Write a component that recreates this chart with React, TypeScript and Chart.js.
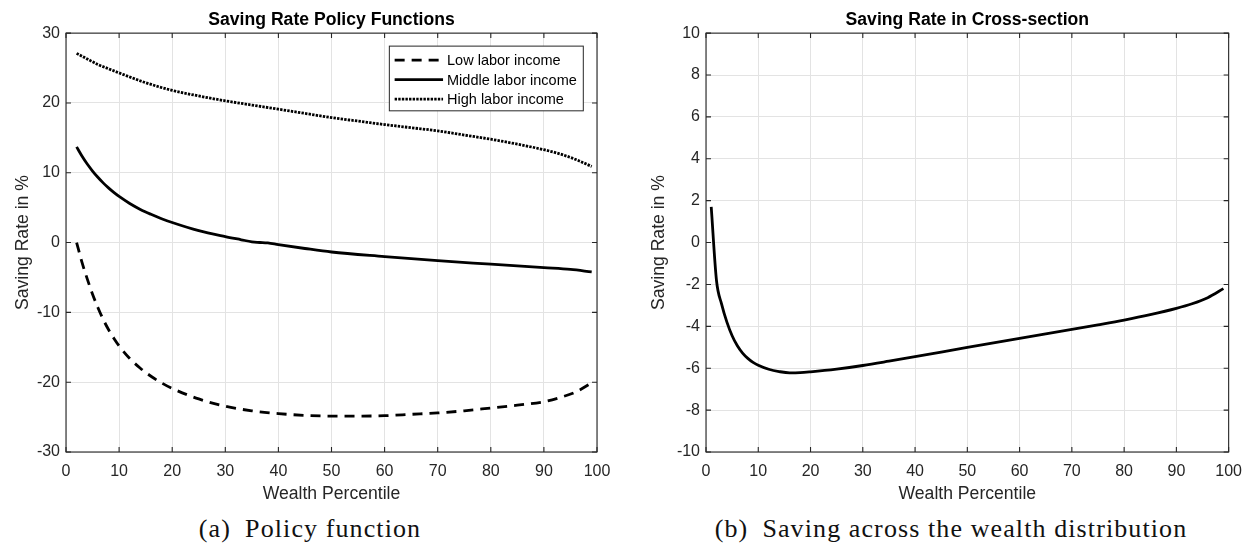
import React, { useEffect, useRef } from "react";
import { Chart, registerables } from "chart.js";

Chart.register(...registerables);

const FONT = "'Liberation Sans', Arial, Helvetica, sans-serif";
const AXIS_COLOR = "#262626";
const GRID_COLOR = "#e3e3e3";

// ---------- Panel (a): policy functions ----------
const lowPct = [2, 3, 4, 5, 6, 7, 8, 9, 10, 12, 14, 16, 18, 20, 25, 30, 35, 40, 45, 50, 55, 60, 65, 70, 75, 80, 85, 90, 93, 96, 99];
const lowRate = [0, -2.8, -5.2, -7.4, -9.3, -11.0, -12.45, -13.7, -14.8, -16.6, -18.0, -19.15, -20.1, -20.9, -22.4, -23.45, -24.1, -24.5, -24.75, -24.85, -24.85, -24.8, -24.6, -24.4, -24.1, -23.7, -23.3, -22.8, -22.2, -21.4, -20.1];

const midPct = [2, 3, 4, 5, 6, 7, 8, 9, 10, 12, 14, 16, 18, 20, 25, 30, 33, 35, 36, 37, 38, 40, 45, 50, 60, 70, 80, 90, 95, 99];
const midRate = [13.7, 12.4, 11.25, 10.25, 9.35, 8.55, 7.83, 7.18, 6.6, 5.6, 4.75, 4.05, 3.42, 2.87, 1.7, 0.85, 0.4, 0.1, 0.02, 0.0, -0.06, -0.3, -0.85, -1.35, -2.0, -2.6, -3.1, -3.6, -3.85, -4.2];

const highPct = [2, 4, 6, 8, 10, 15, 20, 25, 30, 35, 40, 45, 50, 55, 60, 65, 70, 75, 80, 85, 90, 93, 96, 99];
const highRate = [27.1, 26.3, 25.5, 24.9, 24.3, 22.9, 21.8, 21.0, 20.3, 19.7, 19.1, 18.5, 17.9, 17.4, 16.9, 16.45, 16.0, 15.4, 14.8, 14.1, 13.3, 12.7, 11.9, 10.9];

const seriesLabels = ["Low labor income", "Middle labor income", "High labor income"];

// ---------- Panel (b): cross-section ----------
const crossPct = [1, 2, 3, 4, 5, 6, 7, 8, 9, 10, 12, 14, 16, 18, 20, 25, 30, 35, 40, 45, 50, 55, 60, 65, 70, 75, 80, 85, 90, 93, 96, 99];
const crossRate = [1.7, -1.8, -2.95, -3.8, -4.45, -4.93, -5.28, -5.53, -5.72, -5.86, -6.05, -6.16, -6.22, -6.21, -6.17, -6.04, -5.87, -5.665, -5.45, -5.23, -5.01, -4.79, -4.57, -4.36, -4.15, -3.93, -3.7, -3.44, -3.14, -2.92, -2.63, -2.2];

const titles = ["Saving Rate Policy Functions", "Saving Rate in Cross-section"];
const xTitle = "Wealth Percentile";
const yTitle = "Saving Rate in %";
const captions = ["(a)\u2002Policy function", "(b)\u2002Saving across the wealth distribution"];

const pts = (xs: number[], ys: number[]) => xs.map((x, i) => ({ x, y: ys[i] }));

const boxPlugin = {
  id: "matlabBox",
  afterDatasetsDraw(chart: any) {
    const { ctx, chartArea: a, scales } = chart;
    ctx.save();
    ctx.strokeStyle = AXIS_COLOR;
    ctx.lineWidth = 1.1;
    ctx.setLineDash([]);
    ctx.beginPath();
    const tl = 5;
    scales.x.ticks.forEach((t: any) => {
      const px = scales.x.getPixelForValue(t.value);
      ctx.moveTo(px, a.bottom);
      ctx.lineTo(px, a.bottom - tl);
      ctx.moveTo(px, a.top);
      ctx.lineTo(px, a.top + tl);
    });
    scales.y.ticks.forEach((t: any) => {
      const py = scales.y.getPixelForValue(t.value);
      ctx.moveTo(a.left, py);
      ctx.lineTo(a.left + tl, py);
      ctx.moveTo(a.right, py);
      ctx.lineTo(a.right - tl, py);
    });
    ctx.stroke();
    ctx.strokeRect(a.left, a.top, a.right - a.left, a.bottom - a.top);
    ctx.restore();
  },
};

const legendPlugin = {
  id: "insideLegend",
  afterDraw(chart: any) {
    const { ctx, chartArea: a } = chart;
    const ds = chart.data.datasets;
    ctx.save();
    ctx.font = `14.5px ${FONT}`;
    const textW = Math.max(...ds.map((d: any) => ctx.measureText(d.label).width));
    const sampleL = 5.3;
    const sampleLen = 48.4;
    const textGap = 4;
    const w = sampleL + sampleLen + textGap + textW + 6.5;
    const h = 64.7;
    const x0 = a.right - 13.7 - w;
    const y0 = a.top + 13;
    ctx.fillStyle = "#fff";
    ctx.fillRect(x0, y0, w, h);
    ctx.strokeStyle = AXIS_COLOR;
    ctx.lineWidth = 1;
    ctx.strokeRect(x0, y0, w, h);
    ds.forEach((d: any, i: number) => {
      const y = y0 + 14 + i * 19.5;
      ctx.beginPath();
      ctx.setLineDash(d.borderDash || []);
      ctx.lineWidth = d.borderWidth;
      ctx.strokeStyle = d.borderColor;
      ctx.moveTo(x0 + sampleL, y);
      ctx.lineTo(x0 + sampleL + sampleLen, y);
      ctx.stroke();
      ctx.setLineDash([]);
      ctx.fillStyle = "#000";
      ctx.textBaseline = "middle";
      ctx.textAlign = "left";
      ctx.fillText(d.label, x0 + sampleL + sampleLen + textGap, y + 1);
    });
    ctx.restore();
  },
};

const lineBase = {
  borderColor: "#000",
  backgroundColor: "#000",
  borderWidth: 2.8,
  pointRadius: 0,
  fill: false,
  cubicInterpolationMode: "monotone" as const,
};

function makeOptions(opts: {
  title: string;
  ymin: number;
  ymax: number;
  ystep: number;
  yWidth: number;
  yTitlePad: number;
  padRight: number;
}) {
  return {
    animation: false as const,
    responsive: false,
    maintainAspectRatio: false,
    events: [],
    layout: { padding: { left: 0, right: opts.padRight, top: 5, bottom: 0 } },
    plugins: {
      legend: { display: false },
      tooltip: { enabled: false },
      title: {
        display: true,
        text: opts.title,
        fullSize: false,
        color: "#000",
        font: { family: FONT, size: 17.6, weight: "bold" as const },
        padding: { top: 5, bottom: 2 },
      },
    },
    scales: {
      x: {
        type: "linear" as const,
        min: 0,
        max: 100,
        ticks: { stepSize: 10, color: AXIS_COLOR, font: { family: FONT, size: 16 }, padding: 10, maxRotation: 0 },
        grid: { color: GRID_COLOR, drawTicks: false, lineWidth: 1 },
        border: { display: false },
        title: { display: true, text: xTitle, color: AXIS_COLOR, font: { family: FONT, size: 17.6 }, padding: { top: 0, bottom: 5 } },
        afterFit: (s: any) => {
          s.height = 58;
        },
      },
      y: {
        type: "linear" as const,
        min: opts.ymin,
        max: opts.ymax,
        ticks: { stepSize: opts.ystep, color: AXIS_COLOR, font: { family: FONT, size: 16 }, padding: 6 },
        grid: { color: GRID_COLOR, drawTicks: false, lineWidth: 1 },
        border: { display: false },
        title: { display: true, text: yTitle, color: AXIS_COLOR, font: { family: FONT, size: 17.6 }, padding: { top: opts.yTitlePad, bottom: 0 } },
        afterFit: (s: any) => {
          s.width = opts.yWidth;
        },
      },
    },
  };
}

function leftConfig(): any {
  return {
    type: "line",
    data: {
      datasets: [
        { ...lineBase, label: seriesLabels[0], data: pts(lowPct, lowRate), borderDash: [10, 7] },
        { ...lineBase, label: seriesLabels[1], data: pts(midPct, midRate) },
        { ...lineBase, label: seriesLabels[2], data: pts(highPct, highRate), borderDash: [2.4, 1.2] },
      ],
    },
    options: makeOptions({ title: titles[0], ymin: -30, ymax: 30, ystep: 10, yWidth: 66, yTitlePad: 12.5, padRight: 29 }),
    plugins: [boxPlugin, legendPlugin],
  };
}

function rightConfig(): any {
  return {
    type: "line",
    data: {
      datasets: [{ ...lineBase, label: "Cross-section", data: pts(crossPct, crossRate) }],
    },
    options: makeOptions({ title: titles[1], ymin: -10, ymax: 10, ystep: 2, yWidth: 80, yTitlePad: 22.5, padRight: 14.5 }),
    plugins: [boxPlugin],
  };
}

function Panel({ left, config }: { left: number; config: () => any }) {
  const ref = useRef<HTMLCanvasElement>(null);
  useEffect(() => {
    const chart = new Chart(ref.current as HTMLCanvasElement, config());
    return () => chart.destroy();
  }, []);
  return (
    <canvas
      ref={ref}
      width={626}
      height={510}
      style={{ position: "absolute", left, top: 0, width: 626, height: 510 }}
    />
  );
}

const captionStyle: React.CSSProperties = {
  position: "absolute",
  top: 516,
  width: 640,
  textAlign: "center",
  fontFamily: "'Liberation Serif', 'Times New Roman', serif",
  fontSize: 26,
  lineHeight: "26px",
  letterSpacing: "1.1px",
  color: "#111",
  whiteSpace: "nowrap",
};

export default function App() {
  return (
    <div
      style={{
        position: "fixed",
        left: 0,
        top: 0,
        width: 1252,
        height: 544,
        background: "#fff",
        overflow: "hidden",
      }}
    >
      <Panel left={0} config={leftConfig} />
      <Panel left={626} config={rightConfig} />
      <div style={{ ...captionStyle, left: 310 - 320 }}>{captions[0]}</div>
      <div style={{ ...captionStyle, left: 951 - 320 }}>{captions[1]}</div>
    </div>
  );
}
